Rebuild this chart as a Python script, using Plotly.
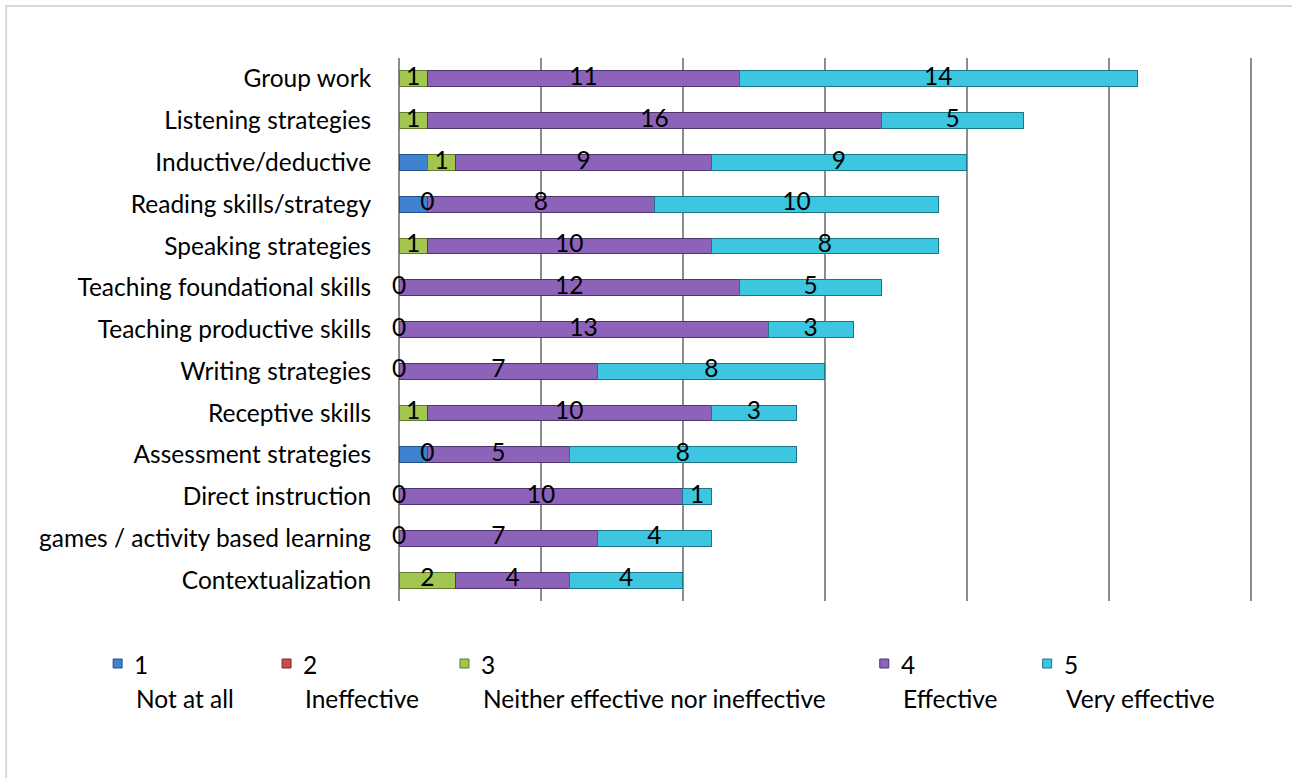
import plotly.graph_objects as go

# Survey: perceived effectiveness of teaching approaches (counts per rating)
categories = [
    "Group work",
    "Listening strategies",
    "Inductive/deductive",
    "Reading skills/strategy",
    "Speaking strategies",
    "Teaching foundational skills",
    "Teaching productive skills",
    "Writing strategies",
    "Receptive skills",
    "Assessment strategies",
    "Direct instruction",
    "games / activity based learning",
    "Contextualization",
]
not_at_all = [0, 0, 1, 1, 0, 0, 0, 0, 0, 1, 0, 0, 0]
ineffective = [0, 0, 0, 0, 0, 0, 0, 0, 0, 0, 0, 0, 0]
neither = [1, 1, 1, 0, 1, 0, 0, 0, 1, 0, 0, 0, 2]
effective = [11, 16, 9, 8, 10, 12, 13, 7, 10, 5, 10, 7, 4]
very_effective = [14, 5, 9, 10, 8, 5, 3, 8, 3, 8, 1, 4, 4]

series = [
    ("1", "Not at all", not_at_all, "#3f82cf", "#22508a", False),
    ("2", "Ineffective", ineffective, "#c0504d", "#7f2b29", False),
    ("3", "Neither effective nor ineffective", neither, "#a2c64f", "#5f7a2a", True),
    ("4", "Effective", effective, "#8c63b8", "#4f3570", True),
    ("5", "Very effective", very_effective, "#3cc6df", "#1d7688", True),
]

FONT = "Lato"
FS = 24.5
X_MAX = 30.05
W, H = 1292, 778
L, T, B = 399, 58, 177
PW = 852 * X_MAX / 30
R = W - L - PW
PH = H - T - B


def px(x):
    return (x - L) / PW


def py(y):
    return 1 - (y - T) / PH


fig = go.Figure()

base = [0] * len(categories)
for num, name, vals, face, edge, labelled in series:
    fig.add_trace(go.Bar(
        y=categories, x=vals, orientation="h", name=f"{num} {name}",
        marker=dict(color=face, line=dict(color=edge, width=1)),
        showlegend=False, hoverinfo="x+y",
    ))
    if labelled:
        mids = [b + v / 2 for b, v in zip(base, vals)]
        fig.add_trace(go.Scatter(
            y=categories, x=mids, mode="text", text=[str(v) for v in vals],
            textposition="middle center", cliponaxis=False,
            textfont=dict(family=FONT, size=FS, color="#000000"),
            showlegend=False, hoverinfo="skip",
        ))
    base = [b + v for b, v in zip(base, vals)]

# Legend: coloured square, rating number, then description underneath
legend_x = [113, 282, 460, 880, 1043]
shapes = [
    dict(type="rect", xref="paper", yref="paper",
         x0=px(6), x1=px(1300), y0=py(790), y1=py(6),
         line=dict(color="#d9d9d9", width=2), fillcolor="rgba(0,0,0,0)", layer="below"),
]
annotations = []
for (num, name, vals, face, edge, labelled), lx in zip(series, legend_x):
    shapes.append(dict(type="rect", xref="paper", yref="paper",
                       x0=px(lx), x1=px(lx + 9), y0=py(668), y1=py(659),
                       fillcolor=face, line=dict(color=edge, width=1)))
    annotations.append(dict(xref="paper", yref="paper", x=px(lx + 19), y=py(664),
                            text=num, showarrow=False, xanchor="left", yanchor="middle",
                            font=dict(family=FONT, size=FS, color="#000000")))
    annotations.append(dict(xref="paper", yref="paper", x=px(lx + 21), y=py(698),
                            text=name, showarrow=False, xanchor="left", yanchor="middle",
                            font=dict(family=FONT, size=FS, color="#000000")))

fig.update_layout(
    width=W, height=H,
    margin=dict(l=L, r=R, t=T, b=B),
    barmode="stack", bargap=0.62,
    paper_bgcolor="white", plot_bgcolor="white",
    font=dict(family=FONT, size=FS, color="#000000"),
    xaxis=dict(range=[0, X_MAX], dtick=5, showgrid=True, gridcolor="#8c8c8c", gridwidth=2,
               showticklabels=False, zeroline=True, zerolinecolor="#8c8c8c", zerolinewidth=2,
               showline=False, ticks=""),
    yaxis=dict(categoryorder="array", categoryarray=categories[::-1],
               autorange=False, range=[-0.5, len(categories) - 0.5],
               showgrid=False, zeroline=False, showline=False, ticks="outside",
               ticklen=22, tickcolor="rgba(0,0,0,0)",
               tickfont=dict(family=FONT, size=FS, color="#000000")),
    shapes=shapes, annotations=annotations,
)

fig.write_html("out.html")
